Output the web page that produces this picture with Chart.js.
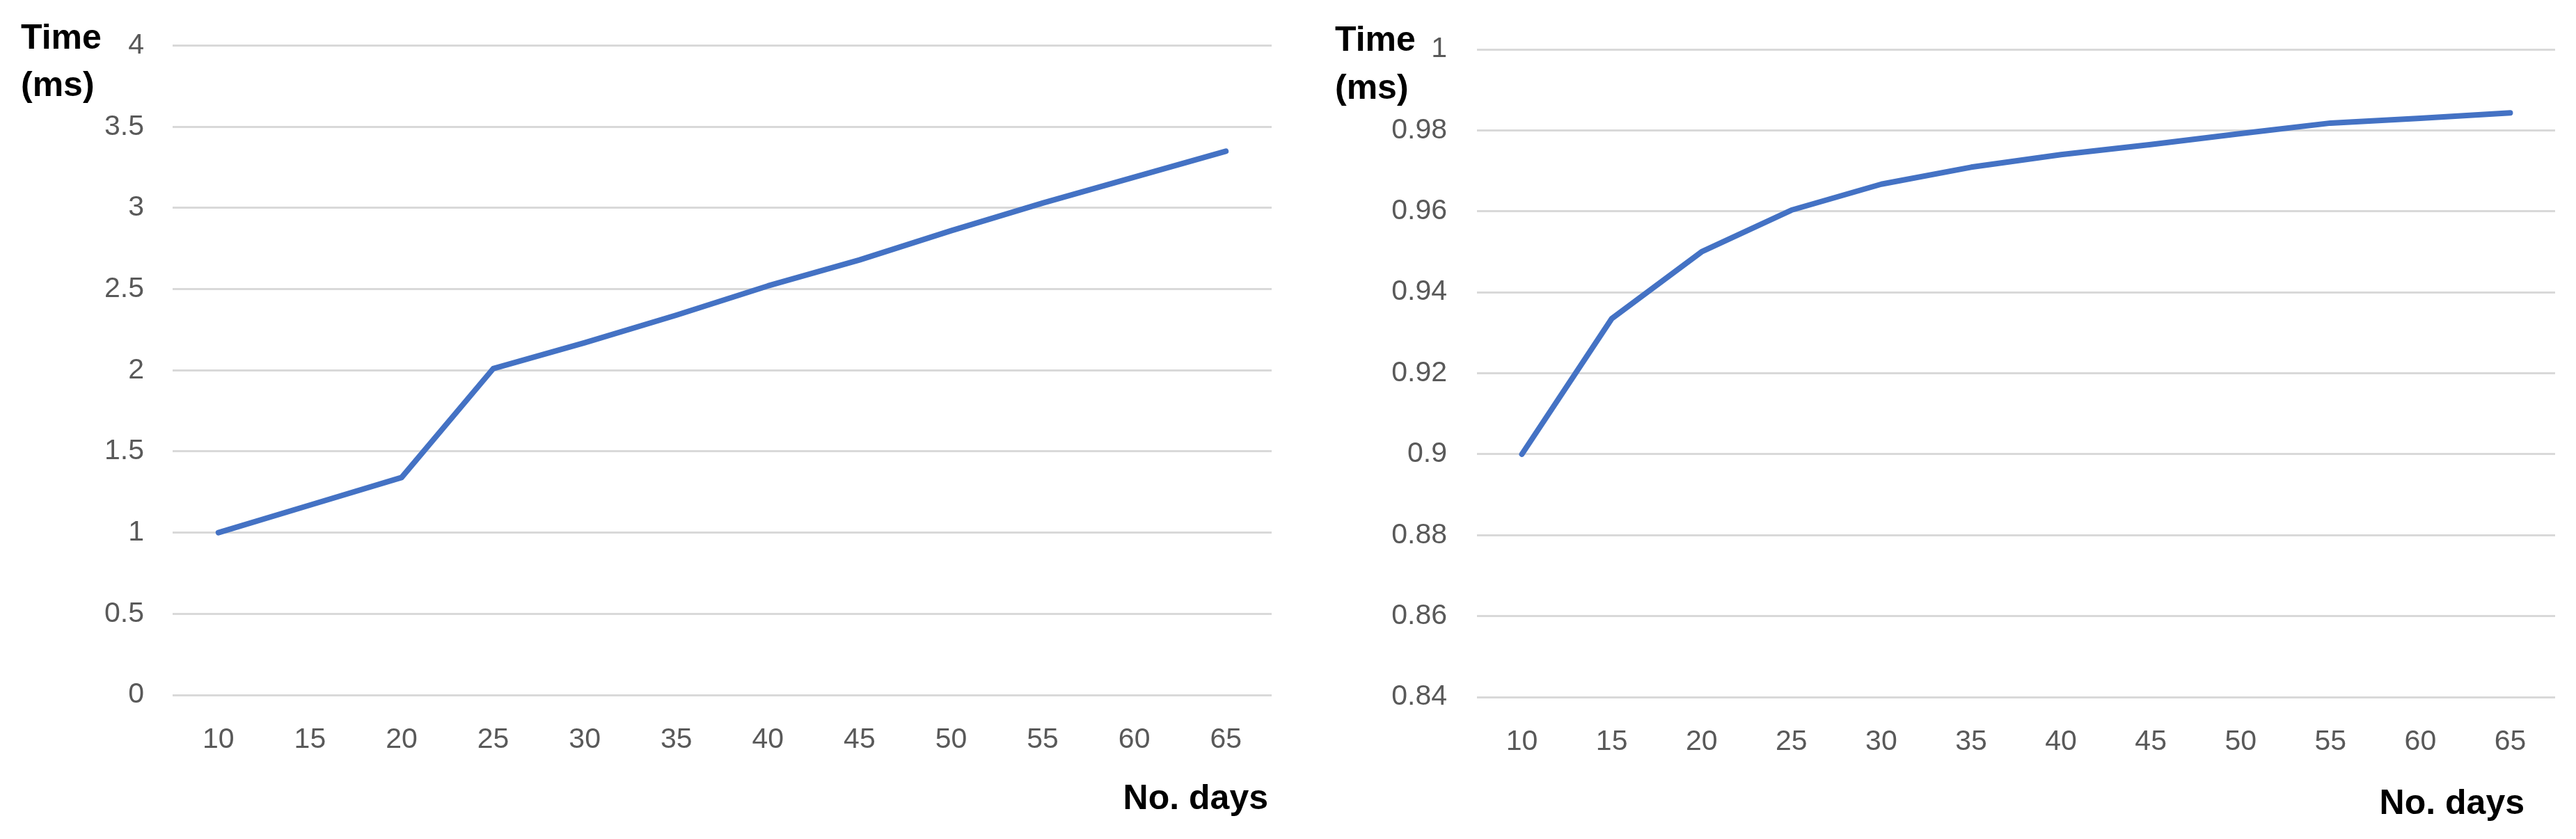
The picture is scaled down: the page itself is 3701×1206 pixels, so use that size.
<!DOCTYPE html>
<html>
<head>
<meta charset="utf-8">
<script src="https://cdn.jsdelivr.net/npm/chart.js@4.4.1/dist/chart.umd.min.js"></script>
<style>
    html, body { margin: 0; padding: 0; background: #fff; }
    .wrap { position: absolute; top: 0; }
    #wrapLeft { left: 0; }
    #wrapRight { left: 1850px; }
</style>
</head>
<body>
<div class="wrap" id="wrapLeft"><canvas id="leftChart" width="1850" height="1206"></canvas></div>
<div class="wrap" id="wrapRight"><canvas id="rightChart" width="1851" height="1206"></canvas></div>
<script>
    const days = ['10', '15', '20', '25', '30', '35', '40', '45', '50', '55', '60', '65'];
    const timeLeft = [1.0, 1.17, 1.34, 2.01, 2.17, 2.34, 2.52, 2.68, 2.86, 3.03, 3.19, 3.35];
    const timeRight = [0.9, 0.9335, 0.95, 0.9603, 0.9667, 0.9709, 0.974, 0.9765, 0.9792, 0.9818, 0.983, 0.9843];
    const leftRange = [0, 4, 0.5];      // min, max, step
    const rightRange = [0.84, 1, 0.02];
    const yTitleLines = ['Time', '(ms)'];
    const xTitle = 'No. days';

    const tickFont = { family: '"Liberation Sans", Arial, sans-serif', size: 41 };
    const titleFont = 'bold 50px "Liberation Sans", Arial, sans-serif';

    // "Time (ms)" top left, "No. days" bottom right
    const cornerTitles = {
        id: 'cornerTitles',
        afterDraw(chart, args, opts) {
            const ctx = chart.ctx;
            ctx.save();
            ctx.font = titleFont;
            ctx.fillStyle = '#000';
            ctx.textBaseline = 'alphabetic';
            ctx.textAlign = 'left';
            yTitleLines.forEach((line, i) => ctx.fillText(line, opts.yX, opts.yY + i * opts.lineGap));
            ctx.textAlign = 'right';
            ctx.fillText(xTitle, opts.xRight, opts.xY);
            ctx.restore();
        }
    };

    function makeChart(id, values, range, box) {
        const canvas = document.getElementById(id);
        const W = canvas.width, H = canvas.height;
        return new Chart(canvas.getContext('2d'), {
            type: 'line',
            data: {
                labels: days,
                datasets: [{
                    data: values,
                    borderColor: '#4472C4',
                    borderWidth: 8,
                    borderCapStyle: 'round',
                    borderJoinStyle: 'round',
                    pointRadius: 0,
                    tension: 0,
                    fill: false
                }]
            },
            plugins: [cornerTitles],
            options: {
                responsive: false,
                animation: false,
                devicePixelRatio: 1,
                layout: { padding: { top: box.top, right: W - box.right, left: 0, bottom: 0 } },
                plugins: {
                    legend: { display: false },
                    tooltip: { enabled: false },
                    cornerTitles: box.titles
                },
                scales: {
                    x: {
                        offset: true,
                        grid: { display: false, drawTicks: false },
                        border: { display: false },
                        ticks: { font: tickFont, color: '#595959', padding: box.xPad, maxRotation: 0, autoSkip: false },
                        afterFit: (s) => { s.height = H - box.bottom; }
                    },
                    y: {
                        min: range[0],
                        max: range[1],
                        grid: { color: '#d9d9d9', lineWidth: 3, drawTicks: false },
                        border: { display: false },
                        ticks: {
                            stepSize: range[2],
                            font: tickFont,
                            color: '#595959',
                            padding: box.yPad,
                            callback: (v) => String(+v.toFixed(3))
                        },
                        afterFit: (s) => { s.width = box.left; }
                    }
                }
            }
        });
    }

    makeChart('leftChart', timeLeft, leftRange, {
        left: 248, right: 1827, top: 64, bottom: 999, yPad: 41, xPad: 40,
        titles: { yX: 30, yY: 70, lineGap: 68, xRight: 1822, xY: 1163 }
    });
    makeChart('rightChart', timeRight, rightRange, {
        left: 272, right: 1821, top: 71, bottom: 1002, yPad: 43, xPad: 40,
        titles: { yX: 68, yY: 73, lineGap: 69, xRight: 1777, xY: 1170 }
    });
</script>
</body>
</html>
